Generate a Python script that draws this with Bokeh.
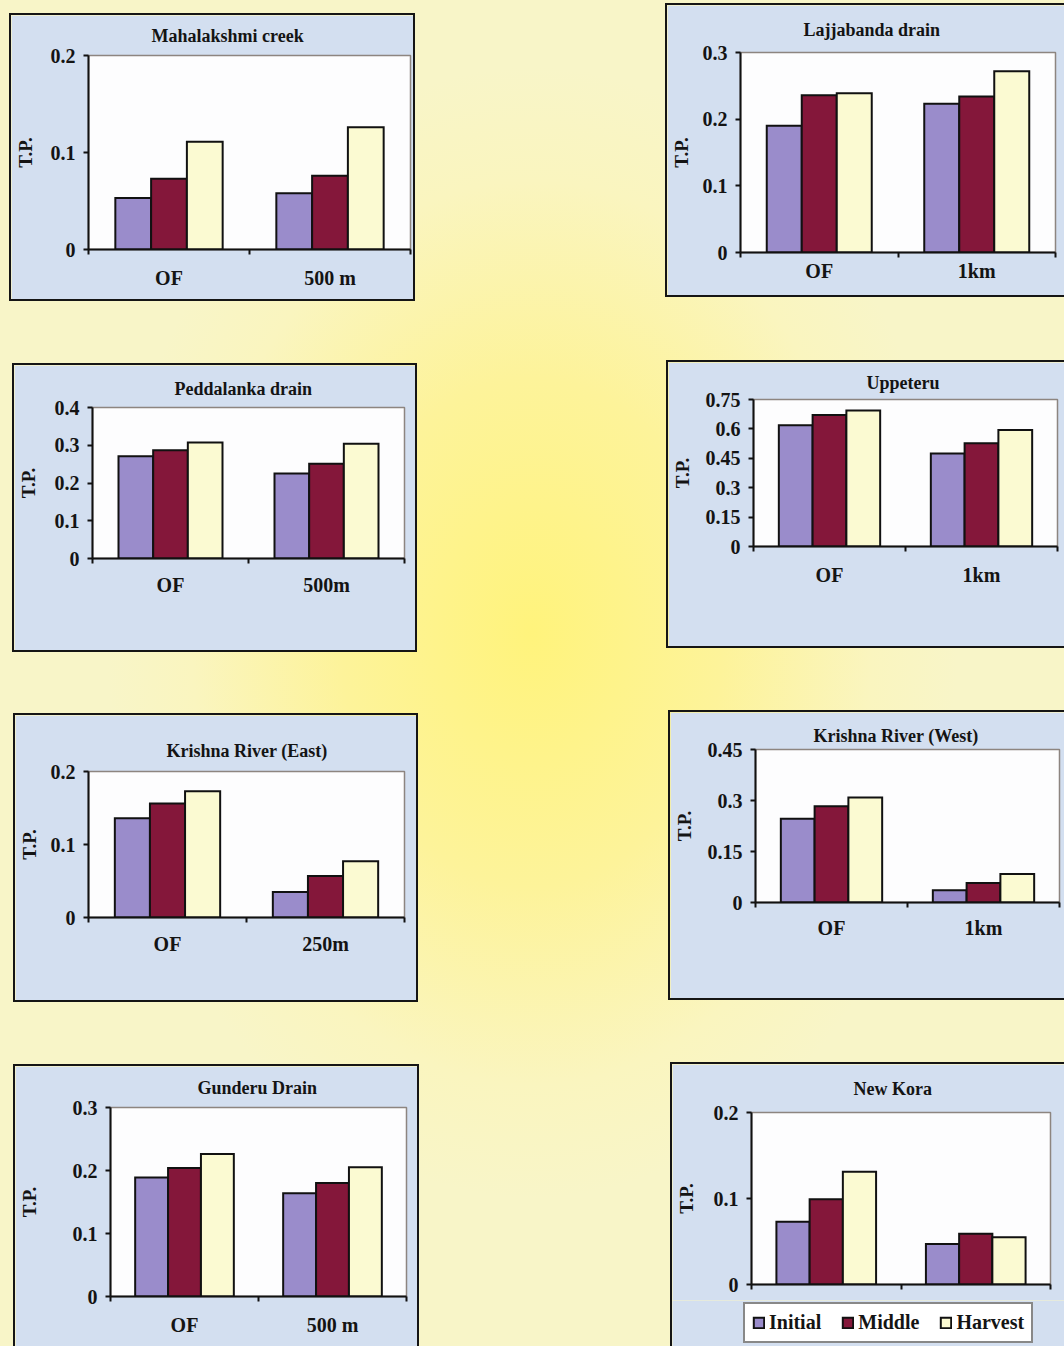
from bokeh.plotting import figure
from bokeh.models import Range1d, FixedTicker, ColumnDataSource, Legend, LegendItem
from bokeh.layouts import row, column
from bokeh.transform import dodge
from bokeh.embed import file_html
from bokeh.resources import INLINE

# ---------------------------------------------------------------------------
# Total phosphorus (T.P.) at each site: outfall (OF) and downstream point,
# for the initial, middle and harvest stages of the crop.
# ---------------------------------------------------------------------------
SERIES = ["Initial", "Middle", "Harvest"]
SERIES_COLORS = ["#9a8ccb", "#84173a", "#fbfad2"]

mahalakshmi_sites = ["OF", "500 m"]
mahalakshmi_initial = [0.053, 0.058]
mahalakshmi_middle = [0.073, 0.076]
mahalakshmi_harvest = [0.111, 0.126]
mahalakshmi_ticks = [0, 0.1, 0.2]

lajjabanda_sites = ["OF", "1km"]
lajjabanda_initial = [0.190, 0.223]
lajjabanda_middle = [0.236, 0.234]
lajjabanda_harvest = [0.239, 0.272]
lajjabanda_ticks = [0, 0.1, 0.2, 0.3]

peddalanka_sites = ["OF", "500m"]
peddalanka_initial = [0.271, 0.225]
peddalanka_middle = [0.287, 0.251]
peddalanka_harvest = [0.307, 0.304]
peddalanka_ticks = [0, 0.1, 0.2, 0.3, 0.4]

uppeteru_sites = ["OF", "1km"]
uppeteru_initial = [0.619, 0.474]
uppeteru_middle = [0.671, 0.527]
uppeteru_harvest = [0.694, 0.594]
uppeteru_ticks = [0, 0.15, 0.3, 0.45, 0.6, 0.75]

krishna_east_sites = ["OF", "250m"]
krishna_east_initial = [0.136, 0.035]
krishna_east_middle = [0.156, 0.057]
krishna_east_harvest = [0.173, 0.077]
krishna_east_ticks = [0, 0.1, 0.2]

krishna_west_sites = ["OF", "1km"]
krishna_west_initial = [0.246, 0.036]
krishna_west_middle = [0.283, 0.057]
krishna_west_harvest = [0.309, 0.084]
krishna_west_ticks = [0, 0.15, 0.3, 0.45]

gunderu_sites = ["OF", "500 m"]
gunderu_initial = [0.189, 0.164]
gunderu_middle = [0.204, 0.180]
gunderu_harvest = [0.226, 0.205]
gunderu_ticks = [0, 0.1, 0.2, 0.3]

new_kora_sites = ["", ""]
new_kora_initial = [0.073, 0.047]
new_kora_middle = [0.099, 0.059]
new_kora_harvest = [0.131, 0.055]
new_kora_ticks = [0, 0.1, 0.2]

# ---------------------------------------------------------------------------
# Page geometry (pixels): outer box of each panel, its plot frame,
# and where its title sits (left edge, vertical centre)
# ---------------------------------------------------------------------------
PAGE_W, PAGE_H, SPLIT = 1064, 1346, 660
BW = 2
FONT = "Liberation Serif"
INK = "#141414"
PANEL_BG = "#d3dff0"
TITLE_H = 23  # height of the title band without standoff

panels_left = [
    dict(title="Mahalakshmi creek", sites=mahalakshmi_sites,
         vals=(mahalakshmi_initial, mahalakshmi_middle, mahalakshmi_harvest), ticks=mahalakshmi_ticks,
         box=(9, 13, 415, 301), frame=(85, 55, 406, 245), t_x=148, t_y=32, ax_sd=12, x_sd=12),
    dict(title="Peddalanka drain", sites=peddalanka_sites,
         vals=(peddalanka_initial, peddalanka_middle, peddalanka_harvest), ticks=peddalanka_ticks,
         box=(12, 363, 417, 652), frame=(86, 407, 400, 554), t_x=168, t_y=388, ax_sd=13, x_sd=10),
    dict(title="Krishna River (East)", sites=krishna_east_sites,
         vals=(krishna_east_initial, krishna_east_middle, krishna_east_harvest), ticks=krishna_east_ticks,
         box=(13, 713, 418, 1002), frame=(82, 771, 400, 913), t_x=160, t_y=750, ax_sd=8, x_sd=10),
    dict(title="Gunderu Drain", sites=gunderu_sites,
         vals=(gunderu_initial, gunderu_middle, gunderu_harvest), ticks=gunderu_ticks,
         box=(13, 1064, 419, PAGE_H), frame=(108, 1107, 402, 1294), t_x=195, t_y=1085, ax_sd=30, x_sd=12),
]
panels_right = [
    dict(title="Lajjabanda drain", sites=lajjabanda_sites,
         vals=(lajjabanda_initial, lajjabanda_middle, lajjabanda_harvest), ticks=lajjabanda_ticks,
         box=(665, 3, PAGE_W, 297), frame=(740, 52, 1053, 248), t_x=803, t_y=28, ax_sd=8, x_sd=2),
    dict(title="Uppeteru", sites=uppeteru_sites,
         vals=(uppeteru_initial, uppeteru_middle, uppeteru_harvest), ticks=uppeteru_ticks,
         box=(666, 360, PAGE_W, 648), frame=(753, 399, 1055, 542), t_x=866, t_y=382, ax_sd=10, x_sd=12),
    dict(title="Krishna River (West)", sites=krishna_west_sites,
         vals=(krishna_west_initial, krishna_west_middle, krishna_west_harvest), ticks=krishna_west_ticks,
         box=(668, 710, PAGE_W, 1000), frame=(752, 749, 1057, 898), t_x=810, t_y=735, ax_sd=10, x_sd=9),
    dict(title="New Kora", sites=new_kora_sites,
         vals=(new_kora_initial, new_kora_middle, new_kora_harvest), ticks=new_kora_ticks,
         box=(670, 1062, PAGE_W, 1300), frame=(747, 1112, 1048, 1282), t_x=849, t_y=1082, ax_sd=14, x_sd=0,
         open_bottom=True, legend_box=(743, 1302, 1346)),
]

BAR_W = 2 / 9  # Excel-style 50% gap width


def border_style(top, right, bottom, left):
    return {
        "border-style": "solid",
        "border-color": "#151515",
        "border-width": f"{top}px {right}px {bottom}px {left}px",
        "box-sizing": "content-box",
    }


def add_bars(p, src):
    renderers = []
    for j, (name, color) in enumerate(zip(SERIES, SERIES_COLORS)):
        r = p.vbar(x=dodge("x", (j - 1) * BAR_W, range=p.x_range), top=name, width=BAR_W,
                   source=src, fill_color=color, line_color="#111111", line_width=2,
                   line_join="miter")
        renderers.append(r)
    return renderers


def make_panel(spec, col_left, prev_bottom):
    L, T, R, B = spec["box"]
    has_right = R < PAGE_W
    has_bottom = B < PAGE_H and not spec.get("open_bottom")
    cl, ct = L + BW, T + BW
    cr = R - (BW if has_right else 0)
    cb = B - (BW if has_bottom else 0)
    fl, ft, fr, fb = spec["frame"]
    sites = spec["sites"]
    ticks = spec["ticks"]
    n = len(sites)

    p = figure(width=cr - cl, height=cb - ct,
               x_range=Range1d(0, n), y_range=Range1d(0, ticks[-1]),
               title=spec["title"], output_backend="svg", toolbar_location=None, tools="",
               min_border_left=fl - cl, min_border_right=cr - fr,
               min_border_top=ft - ct, min_border_bottom=cb - fb,
               background_fill_color="#fdfdfe", border_fill_color=PANEL_BG,
               outline_line_color="#8d8580", outline_line_width=1.5)
    p.frame_align = False

    # title: left edge at t_x, centred vertically on t_y as far as the top margin allows
    p.title.text_font = FONT
    p.title.text_font_style = "bold"
    p.title.text_font_size = "18px"
    p.title.text_color = INK
    p.title.align = "left"
    p.title.vertical_align = "middle"
    p.title.offset = spec["t_x"] - fl
    p.title.standoff = max(0, min(2 * (ft - spec["t_y"]) - TITLE_H, (ft - ct) - TITLE_H))

    p.xgrid.visible = False
    p.ygrid.visible = False

    # bars
    data = dict(x=[i + 0.5 for i in range(n)])
    for name, v in zip(SERIES, spec["vals"]):
        data[name] = v
    src = ColumnDataSource(data)
    add_bars(p, src)

    # x axis: labels at category centres, tick marks on category boundaries
    xa = p.xaxis[0]
    xa.ticker = FixedTicker(ticks=[i + 0.5 for i in range(n)], minor_ticks=list(range(n + 1)))
    xa.major_label_overrides = {i + 0.5: s for i, s in enumerate(sites)}
    xa.major_tick_in = 0
    xa.major_tick_out = 0
    xa.minor_tick_in = 0
    xa.minor_tick_out = 5
    xa.minor_tick_line_color = "#111111"
    xa.minor_tick_line_width = 2
    xa.axis_line_color = "#111111"
    xa.axis_line_width = 2
    xa.major_label_standoff = spec["x_sd"]
    xa.major_label_text_font = FONT
    xa.major_label_text_font_style = "bold"
    xa.major_label_text_font_size = "20px" if any(sites) else "2px"
    xa.major_label_text_color = INK

    # y axis
    ya = p.yaxis[0]
    ya.ticker = FixedTicker(ticks=ticks, minor_ticks=[])
    ya.major_label_overrides = {t: ("0" if t == 0 else f"{t:g}") for t in ticks}
    ya.major_tick_in = 0
    ya.major_tick_out = 5
    ya.major_tick_line_color = "#111111"
    ya.major_tick_line_width = 2
    ya.axis_line_color = "#111111"
    ya.axis_line_width = 2
    ya.major_label_standoff = 8
    ya.major_label_text_font = FONT
    ya.major_label_text_font_style = "bold"
    ya.major_label_text_font_size = "20px"
    ya.major_label_text_color = INK
    ya.axis_label = "T.P."
    ya.axis_label_text_font = FONT
    ya.axis_label_text_font_style = "bold"
    ya.axis_label_text_font_size = "19px"
    ya.axis_label_text_color = INK
    ya.axis_label_standoff = spec["ax_sd"]

    p.styles = border_style(BW, BW if has_right else 0, BW if has_bottom else 0, BW)
    right_space = (SPLIT - R) if col_left == 0 else 0
    p.margin = (T - prev_bottom, right_space, 0, L - col_left)
    return p, src


def make_legend_strip(spec, src, col_left):
    """Strip under a panel's chart holding the boxed series key.

    The key is built from the same series (same source and styles); the bars
    themselves are hidden here, so only the key shows.
    """
    L = spec["box"][0]
    lx, ly, bottom = spec["legend_box"]
    cl = L + BW
    top = spec["box"][3]
    n = len(spec["sites"])
    q = figure(width=PAGE_W - cl, height=bottom - top,
               x_range=Range1d(0, n), y_range=Range1d(1, 2),
               x_axis_type=None, y_axis_type=None,
               output_backend="svg", toolbar_location=None, tools="",
               min_border=0, background_fill_color=PANEL_BG, border_fill_color=PANEL_BG,
               outline_line_color=None)
    q.frame_align = False
    q.xgrid.visible = False
    q.ygrid.visible = False
    renderers = add_bars(q, src)
    for r in renderers:
        r.visible = False
    legend = Legend(items=[LegendItem(label=s, renderers=[r]) for s, r in zip(SERIES, renderers)],
                    orientation="horizontal", click_policy="none")
    legend.label_text_font = FONT
    legend.label_text_font_style = "bold"
    legend.label_text_font_size = "20px"
    legend.label_text_color = INK
    legend.glyph_width = 13
    legend.glyph_height = 13
    legend.label_standoff = 4
    legend.spacing = 20
    legend.padding = 7
    legend.margin = 0
    legend.border_line_color = "#111111"
    legend.border_line_width = 2
    legend.background_fill_color = "white"
    legend.background_fill_alpha = 1
    legend.inactive_fill_alpha = 0
    legend.location = (lx - cl, bottom - ly - 41)
    q.add_layout(legend)
    q.styles = border_style(0, 0, 0, BW)
    q.margin = (0, 0, 0, L - col_left)
    return q


def build_column(specs, col_left):
    items, prev = [], 0
    for s in specs:
        p, src = make_panel(s, col_left, prev)
        items.append(p)
        prev = s["box"][3]
        if "legend_box" in s:
            items.append(make_legend_strip(s, src, col_left))
            prev = s["legend_box"][2]
    return column(*items, spacing=0)


left = build_column(panels_left, 0)
right = build_column(panels_right, SPLIT)

page = row(left, right, spacing=0, width=PAGE_W, height=PAGE_H,
           styles={
               "background": "radial-gradient(ellipse 40% 42% at 50% 47%, #fff37c 0%, #fdf39a 45%, "
                             "#faf5bf 80%, #f8f5c8 100%)",
               "overflow": "hidden",
           })

open("out.html", "w").write(file_html(page, INLINE))
